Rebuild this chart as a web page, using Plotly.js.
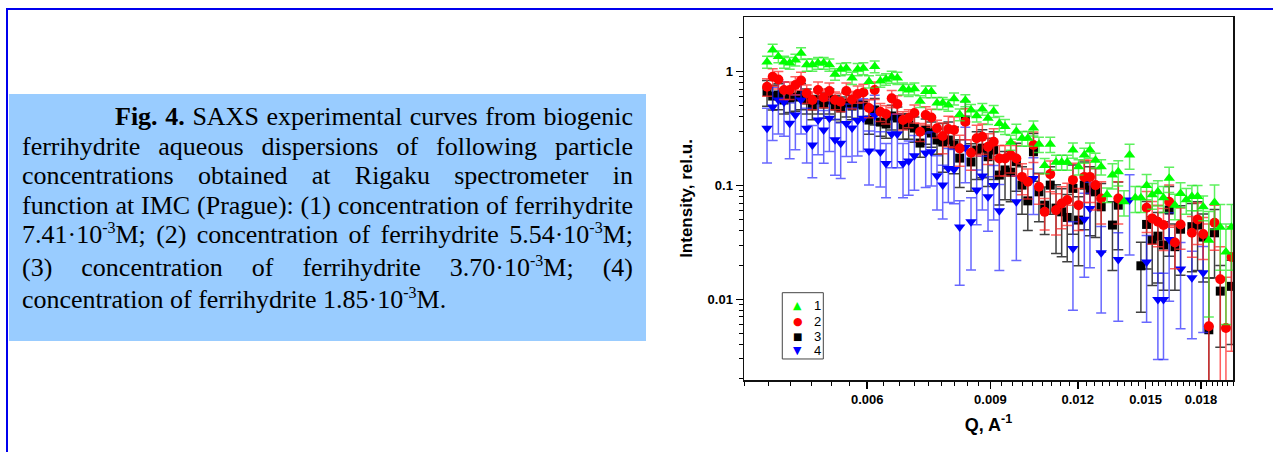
<!DOCTYPE html>
<html>
<head>
<meta charset="utf-8">
<script src="https://cdn.plot.ly/plotly-3.0.1.min.js"></script>
<style>
html,body{margin:0;padding:0;background:#fff;}
body{width:1273px;height:452px;position:relative;overflow:hidden;}
#topline{position:absolute;left:6px;top:8px;width:1267px;height:2px;background:#0000ee;}
#leftline{position:absolute;left:6px;top:8px;width:2px;height:444px;background:#0000ee;}
#box{position:absolute;left:9px;top:94px;width:637px;height:247px;background:#99ccff;}
#caption{position:absolute;left:13px;top:8px;width:611px;font-family:"Liberation Serif","Times New Roman",serif;font-size:26px;line-height:29.5px;color:#000;}
#caption div{text-align:justify;text-align-last:justify;}
#caption div.first{margin-left:93px;}
#caption div.last{text-align-last:left;}
.sup{font-size:16px;position:relative;top:-10px;}
#chart{position:absolute;left:650px;top:0;width:623px;height:452px;}
</style>
</head>
<body>
<div id="topline"></div>
<div id="leftline"></div>
<div id="box">
  <div id="caption">
    <div class="first"><b>Fig. 4.</b> SAXS experimental curves from biogenic</div>
    <div>ferrihydrite aqueous dispersions of following particle</div>
    <div>concentrations obtained at Rigaku spectrometer in</div>
    <div>function at IMC (Prague): (1) concentration of ferrihydrite</div>
    <div>7.41·10<span class="sup">-3</span>M; (2) concentration of ferrihydrite 5.54·10<span class="sup">-3</span>M;</div>
    <div>(3) concentration of ferrihydrite 3.70·10<span class="sup">-3</span>M; (4)</div>
    <div class="last">concentration of ferrihydrite 1.85·10<span class="sup">-3</span>M.</div>
  </div>
</div>
<div id="chart"></div>
<script>
// Scattering vector Q, A^-1 (common grid for all curves)
var Q = [0.004315,0.004396,0.004479,0.004563,0.004649,0.004737,0.004826,0.004917,0.005009,0.005104,
0.005200,0.005298,0.005397,0.005499,0.005602,0.005708,0.005815,0.005925,0.006036,0.006150,
0.006266,0.006384,0.006504,0.006626,0.006751,0.006878,0.007008,0.007140,0.007274,0.007411,
0.007550,0.007693,0.007837,0.007985,0.008135,0.008288,0.008444,0.008603,0.008765,0.008930,
0.009098,0.009269,0.009444,0.009622,0.009803,0.009987,0.01018,0.01037,0.01056,0.01076,
0.01096,0.01117,0.01138,0.01159,0.01181,0.01203,0.01226,0.01249,0.01272,0.01296,
0.01321,0.01345,0.01371,0.01397,0.01423,0.01450,0.01477,0.01505,0.01533,0.01562,
0.01591,0.01621,0.01652,0.01683,0.01715,0.01747,0.01780,0.01813,0.01847,0.01882,
0.01918,0.01954,0.01990];

// Curve 1 (7.41e-3 M)
var I1 = [1.22,1.55,1.36,1.22,1.19,1.27,1.45,1.15,1.15,1.19,
1.19,1.15,0.95,1.05,1.07,0.88,1.05,1.07,0.82,1.11,
0.83,0.86,0.90,0.88,0.71,0.69,0.71,0.55,0.67,0.67,
0.53,0.53,0.51,0.58,0.42,0.56,0.46,0.41,0.47,0.39,
0.45,0.35,0.33,0.24,0.30,0.26,0.26,0.32,0.23,0.15,
0.23,0.16,0.16,0.16,0.205,0.146,0.185,0.205,0.167,0.146,
0.083,0.124,0.132,0.072,0.185,0.078,0.078,0.10,0.083,0.088,
0.078,0.116,0.067,0.085,0.075,0.080,0.080,0.065,0.033,0.071,
0.043,0.026,0.043];
var E1 = [0.15,0.19,0.16,0.15,0.14,0.15,0.17,0.14,0.14,0.14,
0.14,0.14,0.11,0.13,0.13,0.11,0.13,0.13,0.10,0.13,
0.10,0.10,0.11,0.11,0.085,0.083,0.085,0.066,0.08,0.08,
0.064,0.064,0.061,0.07,0.05,0.067,0.055,0.049,0.056,0.047,
0.054,0.053,0.05,0.036,0.045,0.039,0.039,0.048,0.035,0.023,
0.035,0.024,0.024,0.024,0.031,0.022,0.028,0.031,0.025,0.022,
0.012,0.031,0.033,0.018,0.046,0.02,0.02,0.025,0.021,0.022,
0.02,0.029,0.017,0.021,0.019,0.02,0.02,0.016,0.026,0.03,
0.025,0.02,0.025];

// Curve 2 (5.54e-3 M)
var I2 = [0.738,0.904,0.854,0.690,0.690,0.764,0.837,0.646,0.564,0.690,
0.593,0.676,0.564,0.545,0.676,0.570,0.637,0.656,0.480,0.690,
0.445,0.425,0.583,0.520,0.376,0.392,0.433,0.297,0.416,0.396,
0.318,0.272,0.313,0.307,0.212,0.363,0.194,0.260,0.268,0.219,
0.242,0.173,0.173,0.185,0.173,0.119,0.108,0.227,0.0974,0.0587,
0.126,0.0608,0.0696,0.0745,0.112,0.0672,0.119,0.119,0.1008,0.077,
null,null,0.077,null,null,null,null,0.0637,0.0514,0.048,
0.0449,0.0719,0.0316,0.0455,null,0.0384,0.0503,0.0374,0.0058,0.047,
0.0150,0.0056,0.0235];
var E2 = [0.13,0.16,0.15,0.12,0.12,0.14,0.15,0.12,0.10,0.12,
0.11,0.12,0.10,0.10,0.12,0.10,0.11,0.12,0.086,0.12,
0.08,0.077,0.10,0.094,0.068,0.071,0.078,0.053,0.075,0.071,
0.057,0.082,0.094,0.092,0.064,0.11,0.058,0.078,0.08,0.066,
0.073,0.052,0.052,0.056,0.052,0.036,0.032,0.068,0.029,0.018,
0.038,0.024,0.028,0.03,0.045,0.027,0.048,0.048,0.04,0.031,
null,null,0.031,null,null,null,null,0.025,0.021,0.019,
0.018,0.029,0.013,0.018,null,0.015,0.02,0.015,0.04,0.02,
0.014,0.01,0.02];

// Curve 3 (3.70e-3 M)
var I3 = [0.667,0.611,0.624,0.564,0.587,0.599,0.624,0.564,0.499,0.564,
0.520,0.564,0.499,0.480,0.530,0.499,0.520,0.509,0.376,0.461,
0.361,0.347,0.408,0.392,0.340,0.340,0.320,0.236,0.307,0.289,
0.251,0.241,0.251,0.227,0.174,0.376,0.161,0.205,0.213,0.179,
0.205,0.1235,0.137,0.131,0.162,0.1008,0.0733,0.198,0.088,0.0672,
0.1008,0.0633,0.0587,0.0524,0.0943,0.0497,0.1008,0.0912,0.088,0.065,
null,0.0449,0.0672,null,null,null,0.0197,0.0455,0.0332,0.0359,
0.030,0.0609,0.029,0.0413,null,0.0435,0.0449,0.0352,0.0054,0.0384,
0.0118,null,0.0130];
var E3 = [0.17,0.15,0.16,0.14,0.15,0.15,0.16,0.14,0.12,0.14,
0.13,0.14,0.12,0.12,0.13,0.12,0.13,0.13,0.094,0.12,
0.09,0.087,0.10,0.098,0.085,0.085,0.08,0.059,0.077,0.072,
0.063,0.11,0.11,0.10,0.078,0.17,0.072,0.092,0.096,0.081,
0.092,0.056,0.062,0.059,0.073,0.045,0.033,0.089,0.04,0.03,
0.045,0.038,0.035,0.031,0.057,0.03,0.06,0.055,0.053,0.039,
null,0.027,0.04,null,null,null,0.012,0.027,0.02,0.022,
0.018,0.037,0.017,0.025,null,0.026,0.027,0.021,0.01,0.023,
0.008,null,0.009];

// Curve 4 (1.85e-3 M)
var I4 = [0.318,0.489,0.564,0.541,0.352,0.416,0.564,0.318,0.227,0.376,
0.307,0.389,0.253,0.235,0.350,0.320,0.372,0.389,0.201,0.412,
0.197,0.156,0.283,0.283,0.156,0.164,0.183,null,0.193,0.198,
0.122,0.1008,0.141,0.138,0.0433,0.2155,0.0481,0.0912,0.121,0.0796,
0.0998,0.0599,null,null,0.0719,null,null,0.1155,null,null,
null,null,null,null,0.028,null,0.0506,0.0629,null,0.0256,
null,null,0.0224,null,0.0745,null,null,0.0213,null,0.00996,
0.00996,0.0336,null,0.0185,null,0.0155,null,0.0171,null,null,
null,null,null];
var E4 = [0.16,0.24,0.28,0.27,0.18,0.21,0.28,0.16,0.11,0.19,
0.15,0.19,0.13,0.12,0.17,0.16,0.19,0.19,0.10,0.21,
0.10,0.078,0.14,0.14,0.078,0.082,0.092,null,0.097,0.099,
0.061,0.05,0.07,0.069,0.03,0.11,0.03,0.046,0.06,0.04,
0.05,0.042,null,null,0.05,null,null,0.06,null,null,
null,null,null,null,0.02,null,0.035,0.044,null,0.018,
null,null,0.016,null,0.05,null,null,0.015,null,0.007,
0.007,0.024,null,0.013,null,0.011,null,0.012,null,null,
null,null,null];

var seriesNames = ['1','2','3','4'];
var legendGlyphs = ['\u25B2','\u25CF','\u25A0','\u25BC'];
var seriesColors = ['#00ff00','#ff0000','#000000','#0000ff'];
var xTickVals = [0.006,0.009,0.012,0.015,0.018];
var xTickText = ['0.006','0.009','0.012','0.015','0.018'];
var yTickVals = [0.01,0.1,1];
var yTickText = ['0.01','0.1','1'];

// minor tick positions
var xMinor = [];
for (var k = 12; k <= 60; k++) { if (k % 9 !== 0) xMinor.push(k / 3000); }
var yMinor = [];
[0.001,0.01,0.1,1].forEach(function(d){ for (var m = 2; m <= 9; m++) { var v = m*d; if (v > 0.0019 && v < 3.0) yMinor.push(v); } });

function tr(name, y, err, symbol, size, color, ecolor) {
  return {
    type: 'scatter', mode: 'markers', name: name, x: Q, y: y,
    showlegend: false,
    marker: {symbol: symbol, size: size, color: color, line: {width: 0}},
    error_y: {type: 'data', array: err, visible: true, color: ecolor, thickness: 1.5, width: 5}
  };
}

var data = [
  tr(seriesNames[2], I3, E3, 'square', 9, seriesColors[2], 'rgba(30,30,30,0.85)'),
  tr(seriesNames[3], I4, E4, 'triangle-down', 10, seriesColors[3], 'rgba(40,40,255,0.7)'),
  tr(seriesNames[1], I2, E2, 'circle', 10, seriesColors[1], 'rgba(255,40,40,0.75)'),
  tr(seriesNames[0], I1, E1, 'triangle-up', 10, seriesColors[0], 'rgba(40,235,40,0.75)')
];

// compact legend box (as in the original figure)
var legX0 = 0.0783, legX1 = 0.1622, legY0 = 0.0579, legY1 = 0.2405;
var legRows = [0.2066, 0.1625, 0.1212, 0.0799];
var annotations = [];
var glyphSizes = [11, 11, 10, 11];
for (var i = 0; i < 4; i++) {
  annotations.push({xref: 'paper', yref: 'paper', x: 0.1098, y: legRows[i], text: legendGlyphs[i],
    showarrow: false, xanchor: 'center', yanchor: 'middle',
    font: {family: 'DejaVu Sans', size: glyphSizes[i], color: seriesColors[i]}});
  annotations.push({xref: 'paper', yref: 'paper', x: 0.1503, y: legRows[i], text: seriesNames[i],
    showarrow: false, xanchor: 'center', yanchor: 'middle',
    font: {family: 'Liberation Sans, Arial, sans-serif', size: 13, color: '#000'}});
}

var axisCommon = {
  type: 'log', ticks: 'outside', ticklen: 7, tickwidth: 1.5, tickcolor: '#000',
  showline: true, linecolor: '#111', linewidth: 1.5, mirror: true,
  showgrid: false, zeroline: false,
  tickfont: {size: 13, weight: 'bold', color: '#000'}
};

var layout = {
  width: 623, height: 452,
  margin: {l: 94, r: 40, t: 17, b: 72, pad: 0},
  paper_bgcolor: 'rgba(0,0,0,0)', plot_bgcolor: '#ffffff',
  font: {family: 'Liberation Sans, Arial, sans-serif', color: '#000'},
  showlegend: false,
  shapes: [{type: 'rect', xref: 'paper', yref: 'paper', x0: legX0, x1: legX1, y0: legY0, y1: legY1,
            line: {color: '#444', width: 1}, fillcolor: '#ffffff', layer: 'above'}],
  annotations: annotations,
  xaxis: Object.assign({}, axisCommon, {
    range: [Math.log10(0.004), Math.log10(0.02)],
    tickmode: 'array', tickvals: xTickVals, ticktext: xTickText,
    title: {text: 'Q, A<sup>-1</sup>', font: {size: 18, weight: 'bold', color: '#000'}, standoff: 12},
    minor: {tickmode: 'array', tickvals: xMinor, ticks: 'outside', ticklen: 4, tickwidth: 1, tickcolor: '#000', showgrid: false}
  }),
  yaxis: Object.assign({}, axisCommon, {
    range: [-2.709, 0.4807],
    tickmode: 'array', tickvals: yTickVals, ticktext: yTickText,
    title: {text: 'Intensity, rel.u.', font: {size: 17, weight: 'bold', color: '#000'}, standoff: 10},
    minor: {tickmode: 'array', tickvals: yMinor, ticks: 'outside', ticklen: 4, tickwidth: 1, tickcolor: '#000', showgrid: false}
  })
};

Plotly.newPlot('chart', data, layout, {staticPlot: true, displayModeBar: false});
</script>
</body>
</html>
